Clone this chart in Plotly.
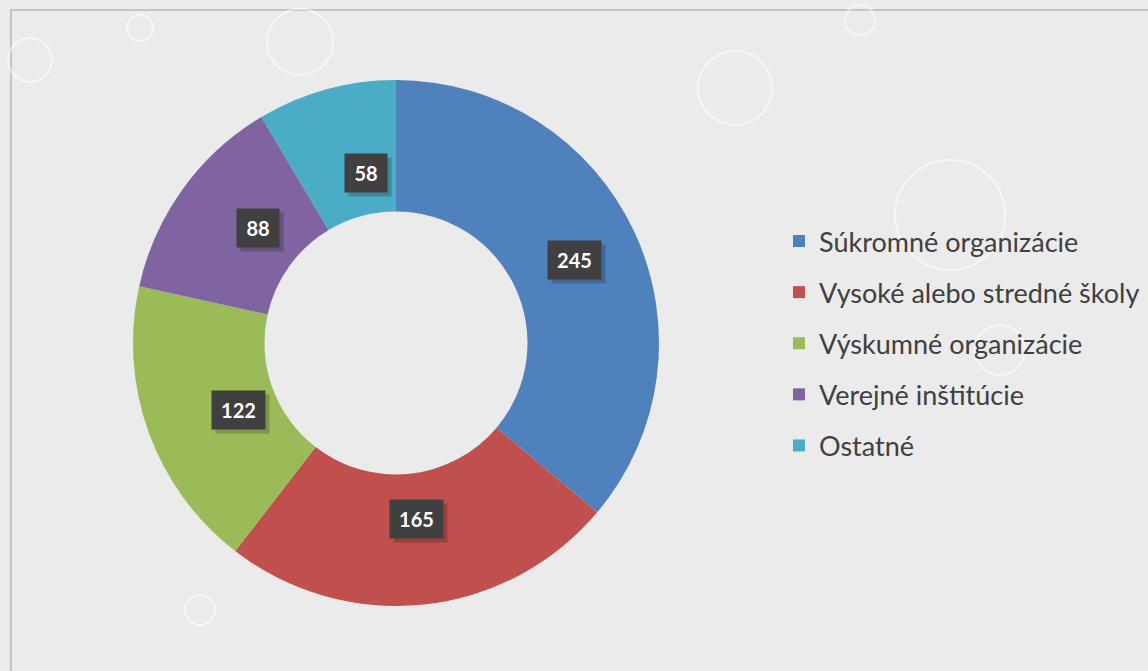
import math
import plotly.graph_objects as go

categories = ["Súkromné organizácie", "Vysoké alebo stredné školy", "Výskumné organizácie",
              "Verejné inštitúcie", "Ostatné"]
values = [245, 165, 122, 88, 58]
colors = ["#4F81BD", "#C0504D", "#9BBB59", "#8064A2", "#4BACC6"]

W, H = 1148, 671
CX, CY, R = 396, 343, 263
HOLE = 0.5

fig = go.Figure()
fig.add_trace(go.Pie(
    labels=categories, values=values, sort=False, direction="clockwise", rotation=0,
    hole=HOLE, marker=dict(colors=colors, line=dict(width=0)),
    textinfo="none", showlegend=False, hoverinfo="label+value",
    domain=dict(x=[(CX - R) / W, (CX + R) / W], y=[1 - (CY + R) / H, 1 - (CY - R) / H]),
))

# legend entries
for cat, col in zip(categories, colors):
    fig.add_trace(go.Scatter(x=[None], y=[None], mode="markers", name=cat, legendgroup=cat,
                             marker=dict(symbol="square", size=16, color=col)))

# value labels with dark boxes
total = sum(values)
cum = 0
rmid = R * (1 + HOLE) / 2
for v in values:
    ang = 2 * math.pi * (cum + v / 2) / total
    cum += v
    px = CX + rmid * math.sin(ang)
    py = CY - rmid * math.cos(ang)
    bw = 11 * len(str(v)) + 4
    # soft shadow box
    fig.add_annotation(x=px / W, y=1 - py / H, xref="paper", yref="paper", text=" ",
                       showarrow=False, font=dict(family="Lato", size=20),
                       width=bw, height=22, bgcolor="rgba(0,0,0,0.2)", borderpad=8,
                       xshift=4, yshift=-4)
    fig.add_annotation(x=px / W, y=1 - py / H, xref="paper", yref="paper", text=f"<b>{v}</b>",
                       showarrow=False, font=dict(family="Lato", size=20, color="white"),
                       width=bw, height=22, bgcolor="#404040", borderpad=8)

shapes = [
    dict(type="rect", xref="paper", yref="paper", x0=11 / W, y0=-0.05, x1=1.05, y1=1 - 10 / H,
         line=dict(color="#c4c4c4", width=2), fillcolor="rgba(0,0,0,0)", layer="below"),
]
# faint decorative circles (background texture)
for (x, y, r) in [(300, 42, 33), (735, 88, 37), (30, 60, 22), (140, 28, 13), (950, 215, 55),
                  (200, 610, 15), (1000, 350, 25), (860, 20, 15)]:
    shapes.append(dict(type="circle", xref="paper", yref="paper", x0=(x - r) / W, x1=(x + r) / W,
                       y0=1 - (y + r) / H, y1=1 - (y - r) / H,
                       line=dict(color="rgba(255,255,255,0.55)", width=2), layer="below"))

fig.update_layout(
    width=W, height=H, margin=dict(l=0, r=0, t=0, b=0),
    paper_bgcolor="#ebebeb", plot_bgcolor="rgba(0,0,0,0)",
    xaxis=dict(visible=False), yaxis=dict(visible=False),
    showlegend=True,
    legend=dict(x=779 / W, y=1 - 217 / H, xanchor="left", yanchor="top",
                font=dict(family="Lato", size=27, color="#404040"),
                tracegroupgap=13, bgcolor="rgba(0,0,0,0)", itemsizing="constant"),
    shapes=shapes,
)

fig.write_html("out.html", config={"displayModeBar": False},
               post_script="document.body.style.margin='0';document.body.style.overflow='hidden';")
